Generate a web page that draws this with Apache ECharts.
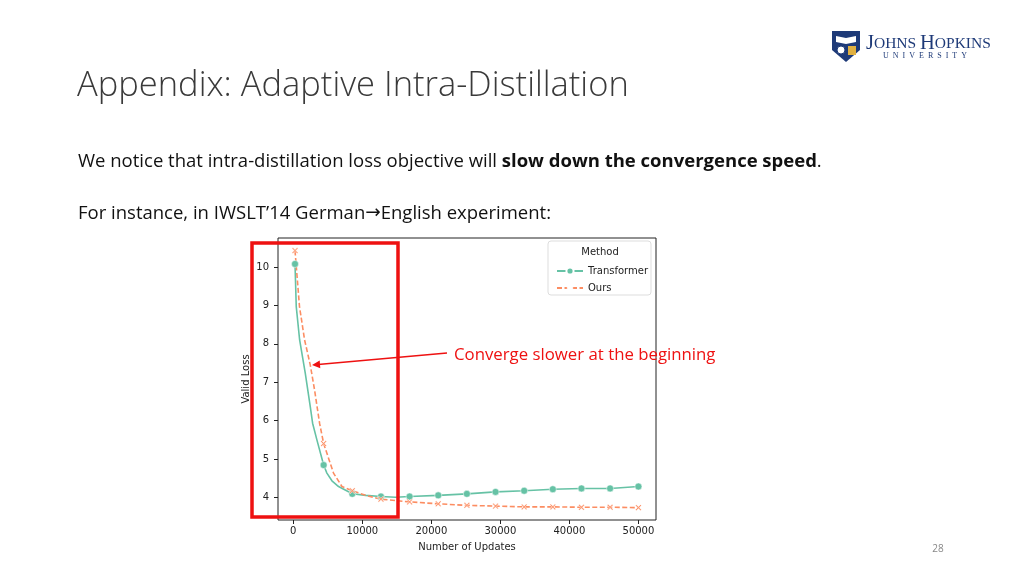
<!DOCTYPE html>
<html>
<head>
<meta charset="utf-8">
<script src="https://cdn.jsdelivr.net/npm/echarts@6/dist/echarts.min.js"></script>
<style>
  html, body { margin: 0; padding: 0; background: #fff; }
  #slide { width: 1024px; height: 576px; }
</style>
</head>
<body>
<div id="slide"></div>
<script>
// values
var tfSteps = [250, 430, 920, 1740, 2460, 2800, 3430, 4400, 4870, 5600, 6560, 8550, 10500, 12700, 14800, 16850, 21000, 25150, 29300, 33450, 37600, 41750, 45900, 50000];
var tfLoss = [10.08, 8.97, 8.10, 7.23, 6.36, 5.93, 5.49, 4.84, 4.63, 4.43, 4.28, 4.09, 4.05, 4.02, 4.00, 4.02, 4.05, 4.09, 4.14, 4.17, 4.21, 4.23, 4.23, 4.28];
var oursSteps = [250, 900, 1640, 2460, 3080, 3810, 4400, 5830, 7050, 8550, 10500, 12700, 16850, 21000, 25150, 29300, 33450, 37600, 41750, 45900, 50000];
var oursLoss = [10.43, 8.97, 8.10, 7.45, 6.80, 5.93, 5.40, 4.63, 4.28, 4.17, 4.05, 3.95, 3.88, 3.83, 3.79, 3.77, 3.75, 3.75, 3.74, 3.74, 3.73];
// steps where seaborn drew a marker
var markerSteps = [250, 4400, 8550, 12700, 16850, 21000, 25150, 29300, 33450, 37600, 41750, 45900, 50000];
var xTicks = [0, 10000, 20000, 30000, 40000, 50000];
var yTicks = [4, 5, 6, 7, 8, 9, 10];

var green = '#66c2a5';
var orange = '#fc8d62';
var xMark = 'path://M0,1.5 L1.5,0 L5,3.5 L8.5,0 L10,1.5 L6.5,5 L10,8.5 L8.5,10 L5,6.5 L1.5,10 L0,8.5 L3.5,5 Z';

function buildData(steps, vals) {
    var out = [];
    for (var i = 0; i < steps.length; i++) {
        var item = { value: [steps[i], vals[i]] };
        if (markerSteps.indexOf(steps[i]) < 0) item.symbol = 'none';
        out.push(item);
    }
    return out;
}

var chart = echarts.init(document.getElementById('slide'));
var tickFont = { fontFamily: 'DejaVu Sans', fontSize: 10, color: '#222' };

var option = {
    animation: false,
    backgroundColor: '#fff',
    grid: {
        left: 278, top: 238, width: 378, height: 282,
        show: true, borderColor: '#222', borderWidth: 1, backgroundColor: 'transparent'
    },
    xAxis: {
        type: 'value', min: -2214, max: 52547,
        name: 'Number of Updates', nameLocation: 'middle', nameGap: 22,
        nameTextStyle: tickFont,
        axisLine: { show: false, onZero: false },
        axisTick: { show: true, length: 4, lineStyle: { color: '#222' }, customValues: xTicks },
        axisLabel: Object.assign({ margin: 6, customValues: xTicks, formatter: function (v) { return String(v); } }, tickFont),
        splitLine: { show: false }
    },
    yAxis: {
        type: 'value', min: 3.408, max: 10.757,
        name: 'Valid Loss', nameLocation: 'middle', nameGap: 27, nameRotate: 90,
        nameTextStyle: tickFont,
        axisLine: { show: false, onZero: false },
        axisTick: { show: true, length: 4, lineStyle: { color: '#222' }, customValues: yTicks },
        axisLabel: Object.assign({ margin: 9, customValues: yTicks }, tickFont),
        splitLine: { show: false }
    },
    legend: {
        data: ['Transformer', 'Ours'],
        orient: 'vertical', left: 551, top: 261,
        itemWidth: 26, itemHeight: 9, itemGap: 7,
        textStyle: { fontFamily: 'DejaVu Sans', fontSize: 10, color: '#222' },
        z: 20
    },
    series: [{
        name: 'Transformer', type: 'line', showAllSymbol: true,
        symbol: 'circle', symbolSize: 7,
        lineStyle: { color: green, width: 1.6 },
        itemStyle: { color: green, borderColor: '#fff', borderWidth: 0.5 },
        data: buildData(tfSteps, tfLoss)
    }, {
        name: 'Ours', type: 'line', showAllSymbol: true,
        symbol: xMark, symbolSize: 6,
        lineStyle: { color: orange, width: 1.6, type: [5, 2.5] },
        itemStyle: { color: orange, borderColor: '#fff', borderWidth: 0.5 },
        data: buildData(oursSteps, oursLoss)
    }],
    graphic: [
        // slide title and body text
        { type: 'text', left: 77, top: 69, style: { text: 'Appendix: Adaptive Intra-Distillation', fontFamily: 'Open Sans', fontWeight: 300, fontSize: 34.5, fill: '#3a3a3a' } },
        { type: 'text', left: 78, top: 152, style: {
            text: '{n|We notice that intra-distillation loss objective will }{b|slow down the convergence speed}{n|.}',
            rich: {
                n: { fontFamily: 'Open Sans', fontSize: 18.5, fill: '#111' },
                b: { fontFamily: 'Open Sans', fontWeight: 'bold', fontSize: 18.5, fill: '#111' }
            } } },
        { type: 'text', left: 78, top: 204, style: {
            text: '{n|For instance, in IWSLT\u201914 German}{a|\u2192}{n|English experiment:}',
            rich: {
                n: { fontFamily: 'Open Sans', fontSize: 18.5, fill: '#111' },
                a: { fontFamily: 'DejaVu Sans', fontSize: 18.5, fill: '#111' }
            } } },
        // legend frame and title
        { type: 'rect', shape: { x: 548, y: 241, width: 103, height: 54, r: 3 }, style: { fill: 'rgba(255,255,255,0.85)', stroke: '#ddd', lineWidth: 1 }, z: 10 },
        { type: 'text', x: 600, y: 252, style: { text: 'Method', fontFamily: 'DejaVu Sans', fontSize: 10, fill: '#222', align: 'center', verticalAlign: 'middle' }, z: 11 },
        // red highlight box
        { type: 'rect', shape: { x: 252, y: 243, width: 146, height: 274 }, style: { fill: 'none', stroke: '#ee1111', lineWidth: 3.5 }, z: 100 },
        // annotation arrow and text
        { type: 'line', shape: { x1: 447, y1: 353, x2: 318, y2: 364.5 }, style: { stroke: '#ee1111', lineWidth: 1.3 }, z: 100 },
        { type: 'polygon', shape: { points: [[312, 365], [320.3, 368.3], [319.7, 360.5]] }, style: { fill: '#ee1111' }, z: 100 },
        { type: 'text', left: 454, top: 347, style: { text: 'Converge slower at the beginning', fontFamily: 'Open Sans', fontSize: 16.8, fill: '#ee1111' }, z: 100 },
        // page number
        { type: 'text', x: 938, y: 549, style: { text: '28', fontFamily: 'Open Sans', fontSize: 10, fill: '#888', align: 'center', verticalAlign: 'middle' } },
        // university logo
        { type: 'polygon', shape: { points: [[832, 31], [860, 31], [860, 50], [846, 62], [832, 50]] }, style: { fill: '#1e3a78' } },
        { type: 'polygon', shape: { points: [[836, 36], [846, 38], [856, 36], [856, 42], [846, 44], [836, 42]] }, style: { fill: '#ffffff' } },
        { type: 'circle', shape: { cx: 841, cy: 50, r: 4 }, style: { fill: '#ffffff', stroke: '#1e3a78', lineWidth: 1 } },
        { type: 'rect', shape: { x: 848, y: 46, width: 8, height: 9 }, style: { fill: '#e0b040' } },
        { type: 'text', left: 866, top: 33, style: {
            text: '{b|J}{s|OHNS }{b|H}{s|OPKINS}',
            rich: {
                b: { fontFamily: 'Liberation Serif', fontSize: 20.5, fill: '#1e3a78' },
                s: { fontFamily: 'Liberation Serif', fontSize: 15.5, fill: '#1e3a78' }
            } } },
        { type: 'text', left: 883, top: 52, style: { text: 'U  N  I  V  E  R  S  I  T  Y', fontFamily: 'Liberation Serif', fontSize: 8, fill: '#1e3a78' } }
    ]
};
chart.setOption(option);
</script>
</body>
</html>
